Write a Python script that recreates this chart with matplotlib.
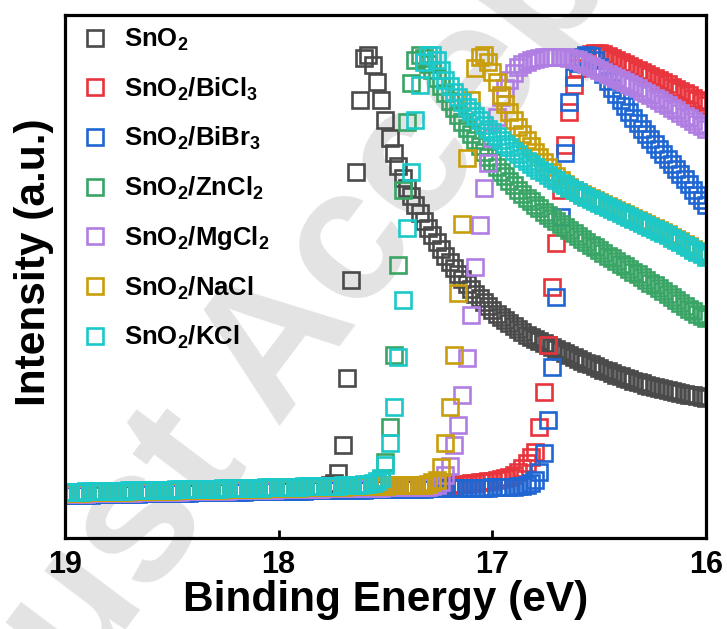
import numpy as np
import matplotlib
matplotlib.use('Agg')
import matplotlib.pyplot as plt

plt.rcParams['font.family'] = ['Liberation Sans', 'DejaVu Sans']
plt.rcParams['font.weight'] = 'bold'
plt.rcParams['mathtext.fontset'] = 'custom'
plt.rcParams['mathtext.rm'] = 'Liberation Sans:bold'
plt.rcParams['mathtext.bf'] = 'Liberation Sans:bold'
plt.rcParams['mathtext.it'] = 'Liberation Sans:bold'

# binding energy scan, 19 -> 16 eV in 0.02 eV steps (151 points)
energy = np.linspace(19.0, 16.0, 151)

labels = [r'SnO$_\mathbf{2}$', r'SnO$_\mathbf{2}$/BiCl$_\mathbf{3}$', r'SnO$_\mathbf{2}$/BiBr$_\mathbf{3}$',
          r'SnO$_\mathbf{2}$/ZnCl$_\mathbf{2}$', r'SnO$_\mathbf{2}$/MgCl$_\mathbf{2}$',
          r'SnO$_\mathbf{2}$/NaCl', r'SnO$_\mathbf{2}$/KCl']
colors = ['#4a4a4a', '#e8343c', '#1f66d2', '#39a565', '#b07ee2', '#c99e0c', '#1cc8c8']

sno2 = [45, 45, 45, 45, 45, 46, 46, 46, 46, 46,
        46, 46, 46, 46, 46, 47, 47, 47, 47, 47,
        47, 47, 47, 47, 47, 47, 48, 48, 48, 48,
        48, 48, 48, 48, 48, 48, 48, 49, 49, 49,
        49, 49, 49, 49, 49, 49, 49, 50, 50, 50,
        50, 50, 50, 50, 50, 50, 51, 51, 51, 51,
        51, 52, 53,
        55, 65, 93, 160, 258, 366, 438, 480, 483, 473,
        456, 438, 418, 400, 385, 372, 360, 350, 342, 333,
        325, 317, 310, 303, 296, 289, 282, 276, 270, 264,
        259, 254, 249, 244, 240, 236, 232, 228, 224, 221,
        218, 215, 212, 209, 206, 203, 201, 199, 197, 195,
        193, 191, 189, 187, 185, 183, 181, 179, 177, 175,
        174, 172, 170, 168, 167, 165, 163, 162, 160, 159,
        157, 156, 155, 153, 152, 151, 150, 149, 148, 147,
        146, 145, 144, 143, 143, 142, 141, 140]

bicl3 = [45, 45, 45, 45, 45, 45, 46, 46, 46, 46,
         46, 46, 46, 46, 46, 46, 46, 47, 47, 47,
         47, 47, 47, 47, 47, 47, 47, 47, 48, 48,
         48, 48, 48, 48, 48, 48, 48, 49, 49, 49,
         49, 49, 49, 49, 49, 49, 49, 49, 49, 49,
         50, 50, 50, 50, 50, 50, 50, 50, 50, 50,
         50, 51, 51, 51, 51, 51, 51, 51, 51, 51,
         51, 51, 51, 51, 51, 52, 52, 52, 52, 52,
         52, 52, 52, 52, 52, 52, 53, 53, 53, 53,
         53, 53, 54, 54, 54, 55, 55, 56, 56, 57,
         57, 58, 59, 60, 61, 63, 66, 70, 75, 81,
         86, 111, 146, 193, 251, 295, 348, 393, 426, 453,
         470, 478, 482, 484, 485, 485, 484, 482, 480, 478,
         476, 474, 472, 470, 468, 466, 464, 462, 460, 458,
         456, 454, 451, 449, 447, 445, 443, 440, 438, 436,
         433]

bibr3 = [43, 43, 43, 43, 43, 43, 43, 44, 44, 44,
         44, 44, 44, 44, 44, 44, 44, 44, 45, 45,
         45, 45, 45, 45, 45, 45, 45, 45, 45, 45,
         46, 46, 46, 46, 46, 46, 46, 46, 46, 46,
         46, 46, 46, 47, 47, 47, 47, 47, 47, 47,
         47, 47, 47, 47, 47, 47, 47, 48, 48, 48,
         48, 48, 48, 48, 48, 48, 48, 48, 48, 48,
         48, 49, 49, 49, 49, 49, 49, 49, 49, 49,
         49, 49, 49, 49, 49, 50, 50, 50, 50, 50,
         50, 50, 50, 50, 50, 50, 50, 50, 50, 50,
         51, 51, 51, 51, 51, 51, 52,
         52, 53, 55,
         58, 66, 85, 118, 171, 241, 321, 385, 436, 461,
         475, 481, 483, 482, 478, 471, 464, 457, 450, 444,
         438, 432, 426, 420, 415, 409, 404, 399, 394, 389,
         384, 379, 374, 369, 364, 359, 354, 348, 343, 338,
         333]

zncl2 = [45, 45, 45, 45, 45, 46, 46, 46, 46, 46,
         46, 46, 46, 46, 46, 47, 47, 47, 47, 47,
         47, 47, 47, 47, 47, 47, 48, 48, 48, 48,
         48, 48, 48, 48, 48, 48, 48, 49, 49, 49,
         49, 49, 49, 49, 49, 49, 49, 50, 50, 50,
         50, 50, 50, 50, 50, 50, 51, 51, 51, 51,
         51, 51, 51, 51, 51, 52, 52, 52, 52, 52,
         52, 53, 53,
         54, 58, 76, 111, 183, 273, 348, 416, 455, 478,
         483, 480, 474, 468, 460, 452, 445, 437, 430, 423,
         416, 410, 404, 398, 392, 386, 381, 376, 371, 366,
         362, 357, 353, 348, 344, 340, 337, 333, 330, 326,
         323, 320, 317, 314, 311, 308, 305, 302, 299, 296,
         293, 291, 288, 285, 282, 280, 277, 274, 272, 269,
         266, 264, 261, 258, 255, 253, 250, 247, 244, 241,
         238, 235, 232, 229, 227, 224, 222, 220]

mgcl2 = [44, 44, 44, 44, 44, 44, 45, 45, 45, 45,
         45, 45, 45, 45, 45, 45, 45, 46, 46, 46,
         46, 46, 46, 46, 46, 46, 46, 46, 47, 47,
         47, 47, 47, 47, 47, 47, 47, 47, 47, 48,
         48, 48, 48, 48, 48, 48, 48, 48, 48, 48,
         49, 49, 49, 49, 49, 49, 49, 49, 49, 49,
         49, 50, 50, 50, 50, 50, 50, 50, 50, 50,
         50, 50, 50, 50, 50, 51, 51, 51, 51, 51,
         51, 51, 51, 51, 51, 51,
         52, 53, 56, 63,
         72, 93, 113, 143, 180, 223, 271, 313, 350, 375,
         400, 421, 441, 450, 458, 465, 471, 474, 476, 478,
         479, 480, 481, 481, 481, 481, 481, 481, 480, 479,
         478, 476, 474, 472, 470, 468, 466, 464, 462, 460,
         458, 456, 454, 452, 450, 447, 445, 443, 440, 438,
         435, 433, 430, 428, 425, 422, 420, 417, 414, 412,
         409]

nacl = [45, 45, 45, 45, 45, 46, 46, 46, 46, 46,
        46, 46, 46, 46, 46, 47, 47, 47, 47, 47,
        47, 47, 47, 47, 47, 47, 48, 48, 48, 48,
        48, 48, 48, 48, 48, 48, 48, 49, 49, 49,
        49, 49, 49, 49, 49, 49, 49, 50, 50, 50,
        50, 50, 50, 50, 50, 50, 51, 51, 51, 51,
        51, 51, 51, 51, 51, 51, 52, 52, 52, 52,
        52, 52, 52, 52, 52, 52, 53, 53, 53, 53,
        53, 53, 53, 53, 53,
        54, 56, 58, 71, 95, 131, 183, 245, 314, 380,
        438, 470, 481, 483, 476, 466, 456, 443, 434, 426,
        418, 411, 404, 398, 392, 386, 381, 376, 371, 366,
        362, 358, 354, 351, 348, 346, 344, 342, 340, 338,
        336, 334, 332, 330, 328, 326, 324, 322, 320, 318,
        316, 314, 312, 310, 308, 306, 304, 301, 299, 297,
        294, 292, 289, 287, 285, 283]

kcl = [46, 46, 46, 46, 46, 47, 47, 47, 47, 47,
       47, 47, 47, 47, 47, 48, 48, 48, 48, 48,
       48, 48, 48, 48, 48, 48, 49, 49, 49, 49,
       49, 49, 49, 49, 49, 49, 49, 50, 50, 50,
       50, 50, 50, 50, 50, 50, 50, 51, 51, 51,
       51, 51, 51, 51, 51, 51, 52, 52, 52, 52,
       52, 52, 52, 52, 52, 53, 53, 53, 53, 53,
       54, 54, 55,
       57, 60, 73, 95, 131, 181, 238, 310, 366, 418,
       453, 476, 483, 483, 478, 468, 458, 452, 446, 441,
       436, 431, 427, 422, 418, 413, 409, 406, 402, 398,
       394, 391, 387, 384, 380, 377, 374, 371, 368, 366,
       363, 360, 358, 355, 353, 350, 348, 346, 343, 341,
       339, 337, 335, 333, 331, 329, 327, 325, 323, 321,
       319, 317, 315, 313, 311, 309, 307, 305, 303, 300,
       298, 296, 293, 291, 288, 286, 284, 281]

series = [sno2, bicl3, bibr3, zncl2, mgcl2, nacl, kcl]

fig = plt.figure(figsize=(7.27, 6.29), dpi=100)
ax = fig.add_axes([0.0894, 0.1447, 0.8817, 0.8315])
ax.set_facecolor('none')

# journal watermark behind everything
fig.text(0.50, 0.63, 'Just Accepted', fontsize=136, color='#e3e3e3', fontweight='bold',
         rotation=53, rotation_mode='anchor', ha='center', va='center', zorder=-5)

for vals, lab, col in zip(series, labels, colors):
    ax.plot(energy, vals, linestyle='none', marker='s', markersize=11,
            markerfacecolor='none', markeredgecolor=col, markeredgewidth=1.9, label=lab)

ax.set_xlim(19, 16)
ax.set_ylim(0, 523)
ax.set_xticks([19, 18, 17, 16])
ax.set_yticks([])
ax.tick_params(axis='x', direction='in', length=6, width=2, labelsize=22, pad=9)
for sp in ax.spines.values():
    sp.set_linewidth(2.3)

ax.set_xlabel('Binding Energy (eV)', fontsize=30.5, fontweight='bold', labelpad=0)
ax.set_ylabel('Intensity (a.u.)', fontsize=30.5, fontweight='bold', labelpad=8)
ax.yaxis.label.set_y(0.528)

ax.legend(loc='upper left', bbox_to_anchor=(0.0, 1.015), frameon=False, fontsize=18.5,
          handlelength=0.8, handletextpad=0.73, labelspacing=0.87, borderaxespad=0.37,
          numpoints=1)

fig.savefig('out.png', dpi=100)
